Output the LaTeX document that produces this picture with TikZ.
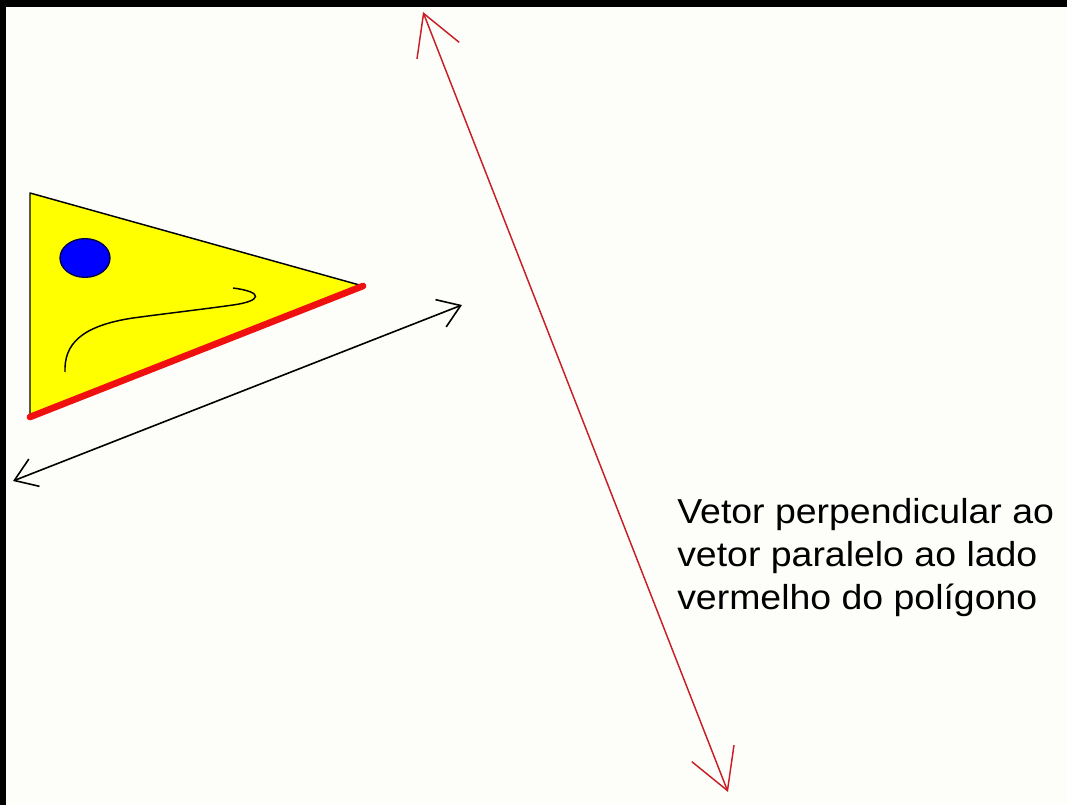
\documentclass[tikz,border=0pt]{standalone}
\usepackage{fontspec}
\newfontfamily\lab{Liberation Sans}[FakeStretch=1.08]
\usetikzlibrary{arrows.meta,shapes.geometric}
\definecolor{paper}{RGB}{253,254,249}
\definecolor{tri}{RGB}{255,255,0}
\definecolor{edge}{RGB}{240,16,16}
\definecolor{vred}{RGB}{200,30,40}
\tikzset{
  blackvec/.style={draw=black, line width=1.2pt,
    {Straight Barb[length=16pt,width=22pt,line width=1.2pt]}-{Straight Barb[length=16pt,width=22pt,line width=1.2pt]}},
  redvec/.style={draw=vred, line width=1.1pt,
    {Straight Barb[length=30pt,width=34pt,line width=1.1pt]}-{Straight Barb[length=30pt,width=34pt,line width=1.1pt]}},
  label/.style={anchor=base west, inner sep=0pt, font=\lab\fontsize{26pt}{32pt}\selectfont, text=black}
}
\begin{document}
\begin{tikzpicture}[x=0.75pt,y=-0.75pt]
\useasboundingbox (0,0) rectangle (1067,805);
\fill[paper] (0,0) rectangle (1067,805);
\fill[black] (0,0) rectangle (1067,7);
\fill[black] (0,0) rectangle (6,805);
% triangle
\coordinate (A) at (30,193);
\coordinate (B) at (363,286);
\coordinate (C) at (30,417);
\filldraw[fill=tri, draw=black, line width=1.1pt, line join=round] (A) -- (B) -- (C) -- cycle;
\draw[edge, line width=5pt, line cap=round] (C) -- (B);
% eye
\node (eye) [ellipse, minimum width=37.5pt, minimum height=29pt, draw=black!70!blue, fill=blue, line width=1pt, inner sep=0pt] at (85,258) {};
% mouth
\draw[black, line width=1.1pt] (65,372) .. controls (64,345) and (80,326) .. (133,318)
  .. controls (170,313) and (205,309) .. (233,305)
  .. controls (262,301) and (264,292) .. (233,288);
% parallel vector
\coordinate (p1) at (13,481);
\coordinate (p2) at (462,305);
\draw[blackvec] (p1) -- (p2);
% perpendicular vector
\coordinate (q1) at (423,12);
\coordinate (q2) at (728,792);
\draw[redvec] (q1) -- (q2);
% text
\node[label] (t1) at (677,523) {Vetor perpendicular ao};
\node[label] (t2) at (677,566) {vetor paralelo ao lado};
\node[label] (t3) at (677,609) {vermelho do polígono};
\end{tikzpicture}
\end{document}
